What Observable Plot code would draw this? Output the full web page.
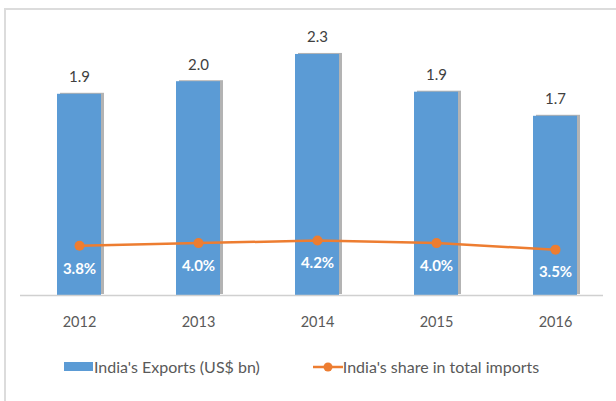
<!DOCTYPE html>
<html>
<head>
<meta charset="utf-8">
<script src="https://cdn.jsdelivr.net/npm/d3@7"></script>
<script src="https://cdn.jsdelivr.net/npm/@observablehq/plot@0.6"></script>
<style>
  html, body { margin: 0; padding: 0; background: #fff; overflow: hidden; }
  body { width: 616px; height: 401px; position: relative; font-family: Lato, "Open Sans", sans-serif; }
  #frame { position: absolute; left: 4px; top: 8px; width: 640px; height: 420px; border: 2px solid #dcdcdc; box-sizing: border-box; }
  #chart { position: absolute; left: 0; top: 0; }
  #legend { position: absolute; top: 357px; left: 64px; font-size: 16px; color: #595959; display: flex; align-items: center; white-space: nowrap; }
  .sw { display: inline-block; width: 29px; height: 9px; background: #5B9BD5; margin-right: 1px; }
  .ln { display: inline-block; width: 30px; height: 12px; margin-right: 0; }
</style>
</head>
<body>
<div id="frame"></div>
<div id="chart"></div>
<div id="legend">
  <span class="sw"></span><span>India's Exports (US$ bn)</span>
  <svg class="ln" viewBox="0 0 30 12" style="margin-left:53px"><line x1="0" y1="6" x2="30" y2="6" stroke="#ED7D31" stroke-width="2.5"/><circle cx="15" cy="6" r="4.5" fill="#ED7D31"/></svg><span>India's share in total imports</span>
</div>
<script>
const years = ["2012", "2013", "2014", "2015", "2016"];
const exportsBn = [1.92, 2.04, 2.30, 1.94, 1.71];
const sharePct = [3.8, 4.0, 4.2, 4.0, 3.5];
const yMax = 2.5;    // primary axis max (US$ bn)
const y2Max = 20;    // secondary axis max (%)

const data = years.map((y, i) => ({
  year: y,
  exp: exportsBn[i],
  share: sharePct[i],
  shareY: sharePct[i] / y2Max * yMax
}));

const chart = Plot.plot({
  width: 616,
  height: 401,
  marginTop: 33,
  marginBottom: 106,
  marginLeft: 20,
  marginRight: 1,
  style: { fontFamily: "Lato, 'Open Sans', sans-serif", background: "transparent", overflow: "visible" },
  x: { domain: years, paddingInner: 0.63, paddingOuter: 0.315, label: null },
  y: { domain: [0, yMax], axis: null },
  marks: [
    Plot.barY(data, { x: "year", y: "exp", fill: "#9a9a9a", fillOpacity: 0.75, dx: 3, dy: -1 }),
    Plot.barY(data, { x: "year", y: "exp", fill: "#5B9BD5" }),
    Plot.ruleY([0], { stroke: "#d0d0d0", strokeWidth: 1.5, insetRight: 12 }),
    Plot.text(data, { x: "year", y: "exp", text: d => d.exp.toFixed(1), dy: -17, fill: "#404040", fontSize: 15 }),
    Plot.line(data, { x: "year", y: "shareY", stroke: "#ED7D31", strokeWidth: 2.5 }),
    Plot.dot(data, { x: "year", y: "shareY", r: 5, fill: "#ED7D31" }),
    Plot.text(data, { x: "year", y: "shareY", text: d => d.share.toFixed(1) + "%", dy: 23, fill: "#ffffff", fontSize: 15, fontWeight: "bold" }),
    Plot.axisX({ tickSize: 0, tickPadding: 21, fontSize: 14.5, color: "#595959", label: null })
  ]
});
document.getElementById("chart").appendChild(chart);
</script>
</body>
</html>
